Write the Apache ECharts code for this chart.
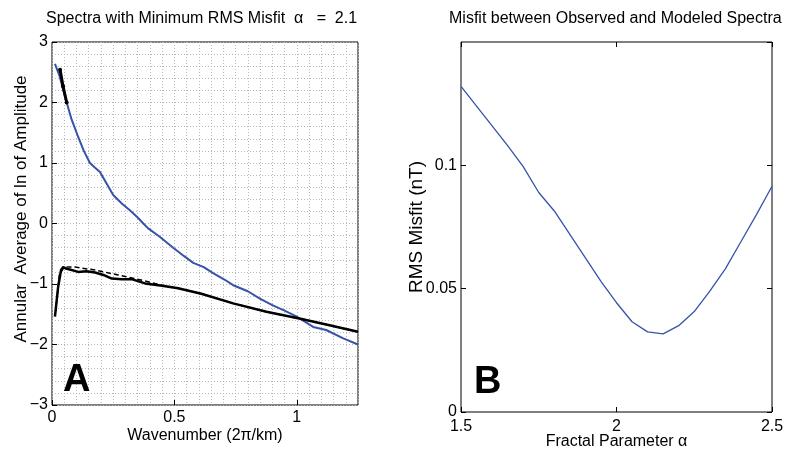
<!DOCTYPE html>
<html>
<head>
<meta charset="utf-8">
<script src="https://cdn.jsdelivr.net/npm/echarts@6/dist/echarts.min.js"></script>
<style>
html,body{margin:0;padding:0;background:#fff;}
#main{width:786px;height:451px;}
</style>
</head>
<body>
<div id="main"></div>
<script>
// panel A: blue curve (spectrum at min misfit)
var blueSpectrum = [
	[0.012,2.64],[0.03,2.45],[0.045,2.22],[0.06,2.0],[0.08,1.72],[0.107,1.43],[0.13,1.2],
	[0.155,1.0],[0.176,0.92],[0.196,0.85],[0.22,0.68],[0.25,0.47],[0.285,0.33],[0.318,0.22],
	[0.35,0.1],[0.373,0.0],[0.393,-0.08],[0.44,-0.22],[0.495,-0.40],[0.54,-0.54],[0.577,-0.65],
	[0.62,-0.72],[0.658,-0.82],[0.706,-0.93],[0.74,-1.02],[0.8,-1.12],[0.849,-1.24],[0.9,-1.35],
	[0.95,-1.44],[1.0,-1.54],[1.067,-1.71],[1.12,-1.76],[1.19,-1.90],[1.25,-2.0]
];
// thick black segment near the start of the blue curve
var fitSegment = [[0.033,2.54],[0.045,2.27],[0.06,2.0]];
// observed spectrum (solid black)
var observed = [
	[0.012,-1.54],[0.025,-1.05],[0.037,-0.77],[0.046,-0.72],[0.06,-0.75],[0.073,-0.76],
	[0.107,-0.80],[0.14,-0.79],[0.176,-0.81],[0.21,-0.85],[0.244,-0.91],[0.285,-0.92],
	[0.325,-0.92],[0.38,-0.99],[0.45,-1.03],[0.515,-1.07],[0.61,-1.16],[0.74,-1.32],
	[0.876,-1.46],[1.01,-1.57],[1.12,-1.67],[1.25,-1.79]
];
// modeled spectrum (dashed black)
var modeled = [
	[0.015,-1.45],[0.03,-0.85],[0.05,-0.72],[0.094,-0.72],[0.176,-0.77],[0.27,-0.85],
	[0.38,-0.95],[0.45,-1.02],[0.515,-1.07],[0.61,-1.16],[0.74,-1.32],[0.876,-1.46],
	[1.01,-1.57],[1.12,-1.67],[1.25,-1.79]
];

// panel B: misfit vs fractal parameter
var alphaValues = [1.5,1.55,1.6,1.65,1.7,1.75,1.8,1.85,1.9,1.95,2.0,2.05,2.1,2.15,2.2,2.25,2.3,2.35,2.4,2.45,2.5];
var rmsMisfit = [0.132,0.124,0.116,0.108,0.0995,0.089,0.0815,0.072,0.0625,0.053,0.0443,0.0366,0.0325,0.0317,0.035,0.0407,0.049,0.058,0.069,0.080,0.0915];

var titleA = 'Spectra with Minimum RMS Misfit  \u03b1   =  2.1';
var titleB = 'Misfit between Observed and Modeled Spectra';

var FONT = '"Liberation Sans", Arial, Helvetica, sans-serif';
var BLUE = '#3653a8';

function toPairs(xs, ys)
{
	var out = [];
	for(var i=0;i<xs.length;i++)
	{
		out.push([xs[i], ys[i]]);
	}
	return out;
}

// matlab style minus sign
function fmtTick(v)
{
	return String(v).replace('-', '\u2212');
}

//刻度文本 / axis label style
function labelStyle(extra)
{
	var s = {color:'#000', fontFamily:FONT, fontSize:16};
	for(var k in extra) s[k] = extra[k];
	return s;
}

// invisible helper axis that only draws grey dotted minor grid
function minorGridAxis(gridIndex, min, max, interval, pos)
{
	return {
		type:'value', gridIndex:gridIndex, min:min, max:max, interval:interval, position:pos,
		axisLine:{show:false, onZero:false}, axisTick:{show:false}, axisLabel:{show:false},
		splitLine:{show:true, lineStyle:{color:'#b8b8b8', type:[1,2], width:1}}
	};
}

// mirror axis: ticks only, pointing inwards (box style)
function mirrorAxis(gridIndex, min, max, interval, pos)
{
	return {
		type:'value', gridIndex:gridIndex, min:min, max:max, interval:interval, position:pos,
		axisLine:{show:false, onZero:false}, axisLabel:{show:false}, splitLine:{show:false},
		axisTick:{show:true, inside:true, length:5, lineStyle:{color:'#000'}}
	};
}

var chart = echarts.init(document.getElementById('main'), null, {renderer:'canvas'});

var option = {
	backgroundColor:'#fff',
	animation:false,
	title:[
		{text:titleA, left:46, top:11, padding:0,
			textStyle:{fontFamily:FONT, fontSize:16, fontWeight:'normal', color:'#000'}},
		{text:titleB, left:449, top:11, padding:0,
			textStyle:{fontFamily:FONT, fontSize:16, fontWeight:'normal', color:'#000'}}
	],
	grid:[
		{left:52, top:42, width:306, height:363, show:true, borderColor:'#000', borderWidth:1,
			backgroundColor:'transparent', outerBoundsMode:'none', containLabel:false},
		{left:461, top:42, width:311, height:370, show:true, borderColor:'#000', borderWidth:1,
			backgroundColor:'transparent', outerBoundsMode:'none', containLabel:false}
	],
	xAxis:[
		{
			type:'value', gridIndex:0, min:0, max:1.25, interval:0.5, position:'bottom',
			name:'Wavenumber (2\u03c0/km)', nameLocation:'middle', nameGap:23, nameMoveOverlap:false,
			nameTextStyle:labelStyle({}),
			axisLine:{show:false, onZero:false},
			axisTick:{show:true, inside:true, length:5, lineStyle:{color:'#000'}},
			axisLabel:labelStyle({margin:5, showMaxLabel:false}),
			splitLine:{show:false}
		},
		minorGridAxis(0, 0, 1.25, 0.05, 'top'),
		{
			type:'value', gridIndex:1, min:1.5, max:2.5, interval:0.5, position:'bottom',
			name:'Fractal Parameter \u03b1', nameLocation:'middle', nameGap:22, nameMoveOverlap:false,
			nameTextStyle:labelStyle({}),
			axisLine:{show:false, onZero:false},
			axisTick:{show:true, inside:true, length:5, lineStyle:{color:'#000'}},
			axisLabel:labelStyle({margin:7}),
			splitLine:{show:false}
		},
		mirrorAxis(1, 1.5, 2.5, 0.5, 'top')
	],
	yAxis:[
		{
			type:'value', gridIndex:0, min:-3, max:3, interval:1, position:'left',
			name:'Annular  Average of ln of Amplitude', nameLocation:'middle', nameGap:22, nameMoveOverlap:false,
			nameTextStyle:labelStyle({fontSize:17, padding:[0,0,0,29]}),
			axisLine:{show:false, onZero:false},
			axisTick:{show:true, inside:true, length:5, lineStyle:{color:'#000'}},
			axisLabel:labelStyle({margin:4, formatter:fmtTick}),
			splitLine:{show:true, lineStyle:{color:'#000', type:[1,2], width:1}}
		},
		minorGridAxis(0, -3, 3, 0.2, 'right'),
		{
			type:'value', gridIndex:1, min:0, max:0.15, interval:0.05, position:'left',
			name:'RMS Misfit (nT)', nameLocation:'middle', nameGap:35, nameMoveOverlap:false,
			nameTextStyle:labelStyle({fontSize:19}),
			axisLine:{show:false, onZero:false},
			axisTick:{show:true, inside:true, length:5, lineStyle:{color:'#000'}},
			axisLabel:labelStyle({margin:4, showMaxLabel:false}),
			splitLine:{show:false}
		},
		mirrorAxis(1, 0, 0.15, 0.05, 'right')
	],
	graphic:[
		{type:'text', left:63, top:362, z:100, style:{text:'A', fontFamily:FONT, fontSize:38, fontWeight:'bold', fill:'#000'}},
		{type:'text', left:474, top:364, z:100, style:{text:'B', fontFamily:FONT, fontSize:38, fontWeight:'bold', fill:'#000'}}
	],
	series:[
		{type:'line', xAxisIndex:0, yAxisIndex:0, data:blueSpectrum, showSymbol:false,
			lineStyle:{color:BLUE, width:2}, z:3},
		{type:'line', xAxisIndex:0, yAxisIndex:0, data:modeled, showSymbol:false,
			lineStyle:{color:'#000', width:1.5, type:[5,3]}, z:4},
		{type:'line', xAxisIndex:0, yAxisIndex:0, data:observed, showSymbol:false,
			lineStyle:{color:'#000', width:2.5}, z:5},
		{type:'line', xAxisIndex:0, yAxisIndex:0, data:fitSegment, symbol:'circle', symbolSize:4,
			itemStyle:{color:'#000'}, lineStyle:{color:'#000', width:3}, z:6},
		{type:'line', xAxisIndex:2, yAxisIndex:2, data:toPairs(alphaValues, rmsMisfit), showSymbol:false,
			lineStyle:{color:BLUE, width:1.3}, z:3}
	]
};

chart.setOption(option);
</script>
</body>
</html>
